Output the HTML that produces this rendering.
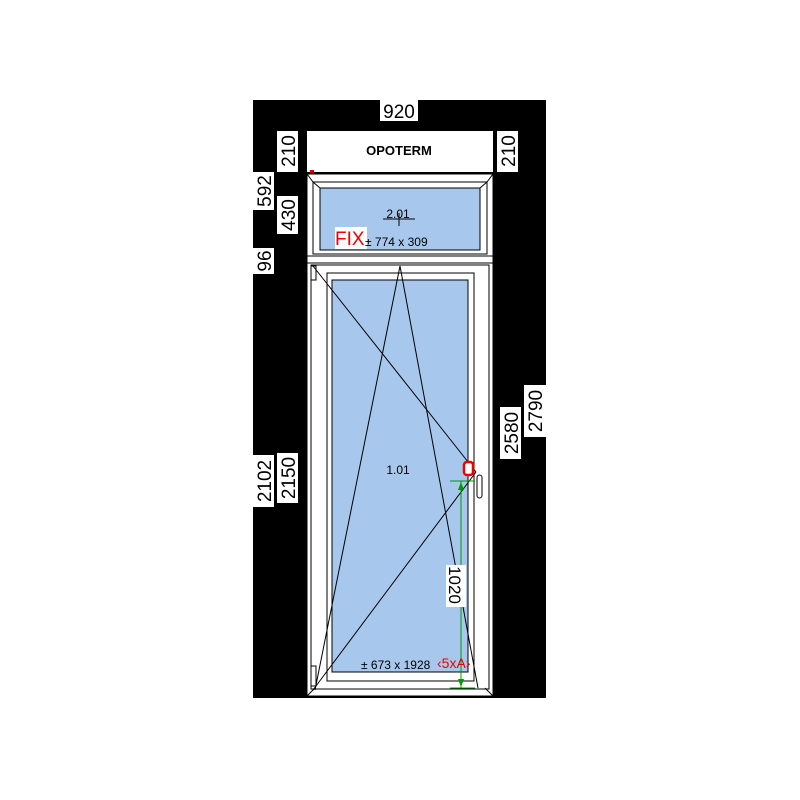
<!DOCTYPE html>
<html><head><style>
html,body{margin:0;padding:0;background:#fff;width:800px;height:800px;overflow:hidden}
svg text{font-family:"Liberation Sans",sans-serif}
</style></head><body>
<svg width="800" height="800" viewBox="0 0 800 800" xmlns="http://www.w3.org/2000/svg">
<rect x="253" y="100" width="293" height="598" fill="#000"/>
<!-- header -->
<rect x="307" y="131" width="186" height="41" fill="#fff"/>
<text x="399" y="155" font-size="13" font-weight="bold" text-anchor="middle">OPOTERM</text>
<rect x="310" y="170" width="4" height="4" fill="#c00"/>
<!-- frame -->
<rect x="307" y="174" width="186" height="522" fill="#fff" stroke="#000" stroke-width="1"/>
<!-- transom -->
<rect x="313" y="182" width="174" height="72" fill="#fff" stroke="#000"/>
<line x1="307" y1="174" x2="313" y2="182" stroke="#000"/><line x1="493" y1="174" x2="487" y2="182" stroke="#000"/>
<rect x="320" y="188" width="160" height="62" fill="#a7c8ec" stroke="#000"/>
<line x1="313" y1="182" x2="320" y2="188" stroke="#000"/><line x1="487" y1="182" x2="480" y2="188" stroke="#000"/>
<text x="398" y="218" font-size="12" text-anchor="middle">2.01</text>
<line x1="383" y1="219" x2="415" y2="219" stroke="#000"/><line x1="399" y1="213" x2="399" y2="226" stroke="#000"/>
<rect x="335" y="227" width="32" height="22" fill="#fff"/>
<text x="335" y="245" font-size="19" fill="#e00">FIX</text>
<text x="365" y="246" font-size="12">± 774 x 309</text>
<!-- mullion -->
<rect x="307" y="256" width="186" height="7" fill="#fff" stroke="#000"/>
<!-- sash -->
<rect x="311" y="265" width="178" height="424" fill="#fff" stroke="#000"/>
<rect x="327" y="273" width="147" height="408" fill="#fff" stroke="#000"/>
<rect x="332" y="280" width="136" height="392" fill="#a7c8ec" stroke="#000"/>
<line x1="307" y1="696" x2="315" y2="688" stroke="#000"/><line x1="493" y1="696" x2="485" y2="688" stroke="#000"/>
<rect x="311" y="266" width="5" height="14" fill="#fff" stroke="#000"/>
<rect x="311" y="666" width="5" height="20" fill="#fff" stroke="#000"/>
<!-- opening lines -->
<g stroke="#000" stroke-width="1" fill="none">
<line x1="400" y1="266" x2="315" y2="690"/>
<line x1="400" y1="266" x2="478" y2="688"/>
<line x1="313" y1="266" x2="476" y2="472"/>
<line x1="476" y1="472" x2="313" y2="690"/>
</g>
<text x="398" y="474" font-size="12" text-anchor="middle">1.01</text>
<rect x="464" y="462" width="9" height="13" rx="3" fill="#fff" stroke="#e00" stroke-width="2.5"/>
<rect x="477" y="475" width="5" height="23" rx="2.5" fill="#fff" stroke="#000"/>
<!-- green dim -->
<g stroke="#090" stroke-width="1">
<line x1="450" y1="481" x2="475" y2="481"/>
<line x1="461" y1="481" x2="461" y2="688"/>
<line x1="450" y1="688" x2="475" y2="688"/>
</g>
<polygon points="461,482 458,490 464,490" fill="#090"/>
<polygon points="461,687 458,679 464,679" fill="#090"/>
<rect x="446" y="565" width="20" height="42" fill="#fff"/>
<text transform="translate(449,585) rotate(90)" font-size="17" text-anchor="middle">1020</text>
<text x="361" y="669" font-size="12">± 673 x 1928</text>
<text x="437" y="668" font-size="14" fill="#e00">‹5xA›</text>
<!-- dim labels -->
<g font-size="19">
<rect x="380" y="100" width="38" height="21" fill="#fff"/>
<text x="399" y="118" text-anchor="middle">920</text>
<rect x="277" y="131" width="21" height="41" fill="#fff"/>
<text transform="translate(295,151) rotate(-90)" text-anchor="middle">210</text>
<rect x="497" y="131" width="21" height="41" fill="#fff"/>
<text transform="translate(515,151) rotate(-90)" text-anchor="middle">210</text>
<rect x="253" y="172" width="21" height="38" fill="#fff"/>
<text transform="translate(271,191) rotate(-90)" text-anchor="middle">592</text>
<rect x="277" y="196" width="21" height="38" fill="#fff"/>
<text transform="translate(295,215) rotate(-90)" text-anchor="middle">430</text>
<rect x="253" y="248" width="21" height="26" fill="#fff"/>
<text transform="translate(271,261) rotate(-90)" text-anchor="middle">96</text>
<rect x="253" y="455" width="21" height="52" fill="#fff"/>
<text transform="translate(271,481) rotate(-90)" text-anchor="middle">2102</text>
<rect x="277" y="453" width="21" height="50" fill="#fff"/>
<text transform="translate(295,478) rotate(-90)" text-anchor="middle">2150</text>
<rect x="500" y="407" width="21" height="52" fill="#fff"/>
<text transform="translate(518,433) rotate(-90)" text-anchor="middle">2580</text>
<rect x="524" y="385" width="22" height="52" fill="#fff"/>
<text transform="translate(542,411) rotate(-90)" text-anchor="middle">2790</text>
</g>
</svg>
</body></html>
